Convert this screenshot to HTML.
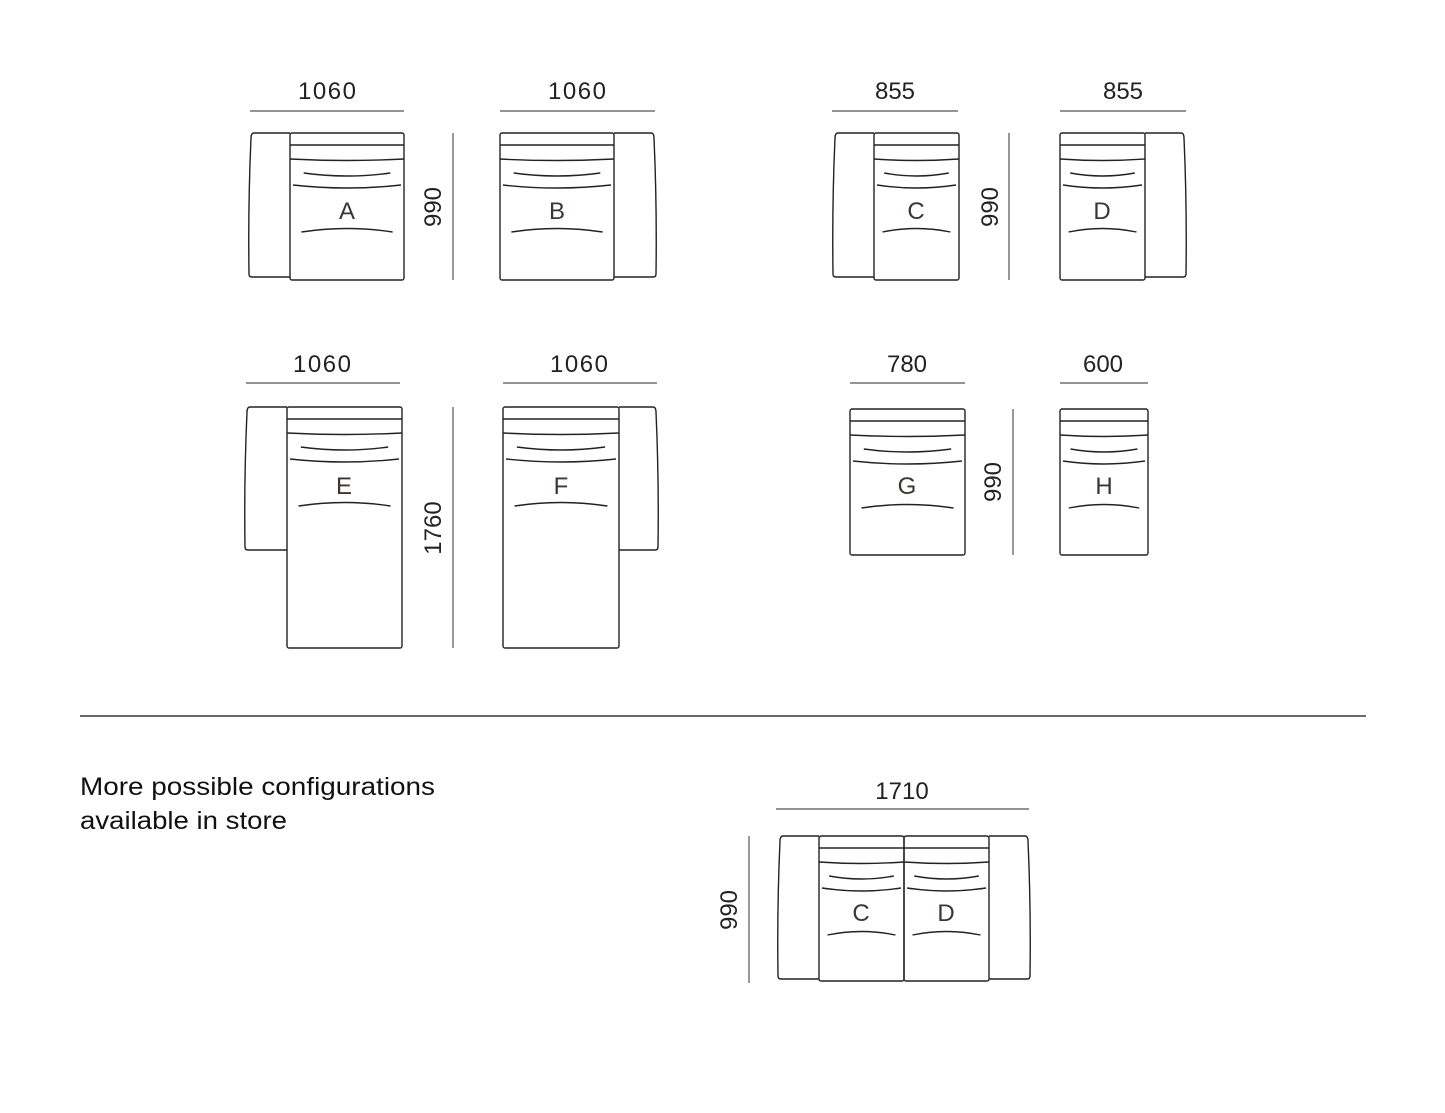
<!DOCTYPE html>
<html><head><meta charset="utf-8"><style>
html,body{margin:0;padding:0;background:#fff;}
svg{display:block}
text{font-family:"Liberation Sans",sans-serif;}
.d{font-size:24px;fill:#222;text-anchor:middle}
.l{font-size:24px;fill:#3d3533;text-anchor:middle}
.t{font-size:25px;fill:#111}
</style></head><body>
<svg id="s" width="1445" height="1113" viewBox="0 0 1445 1113" xmlns="http://www.w3.org/2000/svg">
<g id="g" fill="none" stroke="#222" stroke-width="1.4"></g>
<g stroke="#555" stroke-width="1.2">
<line x1="250" y1="111" x2="404" y2="111"/><line x1="500" y1="111" x2="655" y2="111"/>
<line x1="832" y1="111" x2="958" y2="111"/><line x1="1060" y1="111" x2="1186" y2="111"/>
<line x1="246" y1="383" x2="400" y2="383"/><line x1="503" y1="383" x2="657" y2="383"/>
<line x1="850" y1="383" x2="965" y2="383"/><line x1="1060" y1="383" x2="1148" y2="383"/>
<line x1="776" y1="809" x2="1029" y2="809"/>
<line x1="453" y1="133" x2="453" y2="280"/><line x1="1009" y1="133" x2="1009" y2="280"/>
<line x1="453" y1="407" x2="453" y2="648"/><line x1="1013" y1="409" x2="1013" y2="555"/>
<line x1="749" y1="836" x2="749" y2="983"/>
<line x1="80" y1="716" x2="1366" y2="716" stroke="#111"/>
</g>
<text class="d" x="327" y="99" textLength="58">1060</text><text class="d" x="577" y="99" textLength="58">1060</text>
<text class="d" x="895" y="99">855</text><text class="d" x="1123" y="99">855</text>
<text class="d" x="322" y="372" textLength="58">1060</text><text class="d" x="579" y="372" textLength="58">1060</text>
<text class="d" x="907" y="372">780</text><text class="d" x="1103" y="372">600</text>
<text class="d" x="902" y="799">1710</text>
<text class="d" transform="translate(441,207) rotate(-90)">990</text>
<text class="d" transform="translate(998,207) rotate(-90)">990</text>
<text class="d" transform="translate(441,528) rotate(-90)">1760</text>
<text class="d" transform="translate(1001,482) rotate(-90)">990</text>
<text class="d" transform="translate(737,910) rotate(-90)">990</text>
<text class="l" x="347" y="219">A</text><text class="l" x="557" y="219">B</text>
<text class="l" x="916" y="219">C</text><text class="l" x="1102" y="219">D</text>
<text class="l" x="344" y="494">E</text><text class="l" x="561" y="494">F</text>
<text class="l" x="907" y="494">G</text><text class="l" x="1104" y="494">H</text>
<text class="l" x="861" y="921">C</text><text class="l" x="946" y="921">D</text>
<text class="t" x="80" y="795" textLength="355" lengthAdjust="spacingAndGlyphs">More possible configurations</text>
<text class="t" x="80" y="829" textLength="207" lengthAdjust="spacingAndGlyphs">available in store</text>
</svg>
<script>
var g=document.getElementById('g'),h='';
function seat(x0,x1,y0,y1){var w=x1-x0,m=(x0+x1)/2;
h+='<rect x="'+x0+'" y="'+y0+'" width="'+w+'" height="'+(y1-y0)+'" rx="2"/>';
h+='<line x1="'+x0+'" y1="'+(y0+12)+'" x2="'+x1+'" y2="'+(y0+12)+'"/>';
h+='<path d="M'+x0+' '+(y0+26)+' Q'+m+' '+(y0+29)+' '+x1+' '+(y0+26)+'"/>';
h+='<path d="M'+(x0+w*.12)+' '+(y0+40)+' Q'+m+' '+(y0+46)+' '+(x1-w*.12)+' '+(y0+40)+'"/>';
h+='<path d="M'+(x0+3)+' '+(y0+52)+' Q'+m+' '+(y0+58)+' '+(x1-3)+' '+(y0+52)+'"/>';
h+='<path d="M'+(x0+w*.1)+' '+(y0+99)+' Q'+m+' '+(y0+92)+' '+(x1-w*.1)+' '+(y0+99)+'"/>';}
function armL(x0,x1,y0,y1){h+='<path d="M'+x1+' '+y0+' H'+(x0+5)+' Q'+(x0+2)+' '+y0+' '+(x0+2)+' '+(y0+5)+' Q'+(x0-1)+' '+((y0+y1)/2)+' '+x0+' '+(y1-3)+' Q'+x0+' '+y1+' '+(x0+3)+' '+y1+' H'+x1+'"/>';}
function armR(x0,x1,y0,y1){h+='<path d="M'+x0+' '+y0+' H'+(x1-5)+' Q'+(x1-2)+' '+y0+' '+(x1-2)+' '+(y0+5)+' Q'+(x1+1)+' '+((y0+y1)/2)+' '+x1+' '+(y1-3)+' Q'+x1+' '+y1+' '+(x1-3)+' '+y1+' H'+x0+'"/>';}
armL(249,290,133,277);seat(290,404,133,280);
seat(500,614,133,280);armR(614,656,133,277);
armL(833,874,133,277);seat(874,959,133,280);
seat(1060,1145,133,280);armR(1145,1186,133,277);
armL(245,287,407,550);seat(287,402,407,648);
seat(503,619,407,648);armR(619,658,407,550);
seat(850,965,409,555);seat(1060,1148,409,555);
armL(778,819,836,979);seat(819,904,836,981);seat(904,989,836,981);armR(989,1030,836,979);
g.innerHTML=h;
</script>
</body></html>
